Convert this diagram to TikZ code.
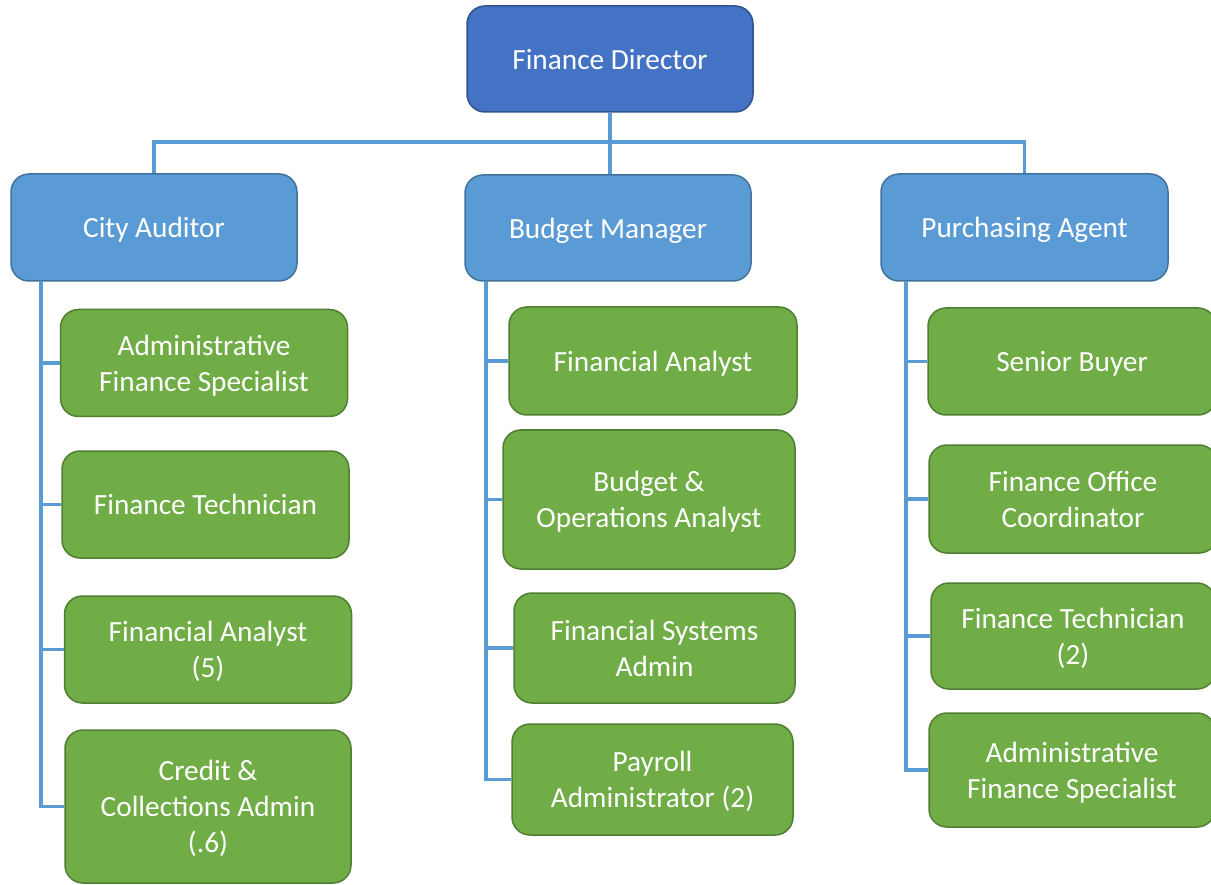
\documentclass[tikz,border=0pt]{standalone}
\usepackage{fontspec}
\setmainfont{Carlito}
\usetikzlibrary{positioning}
\definecolor{dirfill}{HTML}{4472C4}
\definecolor{dirline}{HTML}{2F528F}
\definecolor{mgrfill}{HTML}{5B9BD5}
\definecolor{mgrline}{HTML}{41719C}
\definecolor{stafffill}{HTML}{70AD47}
\definecolor{staffline}{HTML}{507E32}
\definecolor{linkblue}{HTML}{5B9BD5}
\tikzset{
  box/.style={rounded corners=18pt, line width=1.5pt, text=white, align=center,
    inner sep=0pt, text depth=-7pt, font=\fontsize{29.3}{36}\selectfont},
  director/.style={box, fill=dirfill, draw=dirline},
  manager/.style={box, fill=mgrfill, draw=mgrline},
  staff/.style={box, fill=stafffill, draw=staffline},
  link/.style={draw=linkblue, line width=3.5pt}
}
\begin{document}
\begin{tikzpicture}[x=1pt, y=-1pt]
    \useasboundingbox (0,0) rectangle (1211,885);
    \clip (0,0) rectangle (1211,885);

    % top levels
    \node[director, minimum width=286pt, minimum height=106pt] (fd) at (610, 59) {Finance Director};
    \node[manager, minimum width=286pt, minimum height=107pt] (ca) at (154, 227.5) {City Auditor};
    \node[manager, minimum width=286pt, minimum height=106pt] (bm) at (608, 228) {Budget Manager};
    \node[manager, minimum width=287pt, minimum height=107pt] (pa) at (1024.5, 227.5) {Purchasing Agent};

    % city auditor staff
    \node[staff, minimum width=287pt, minimum height=107pt] (ca1) at (204, 363) {Administrative\\Finance Specialist};
    \node[staff, minimum width=287pt, minimum height=107pt] (ca2) at (205.5, 504.5) {Finance Technician};
    \node[staff, minimum width=287pt, minimum height=107pt] (ca3) at (208, 649.5) {Financial Analyst\\(5)};
    \node[staff, minimum width=286pt, minimum height=153pt] (ca4) at (208, 806.5) {Credit \&\\Collections Admin\\(.6)};

    % budget manager staff
    \node[staff, minimum width=288pt, minimum height=108pt] (bm1) at (653, 361) {Financial Analyst};
    \node[staff, minimum width=292pt, minimum height=139pt] (bm2) at (649, 499.5) {Budget \&\\Operations Analyst};
    \node[staff, minimum width=281pt, minimum height=110pt] (bm3) at (654.5, 648) {Financial Systems\\Admin};
    \node[staff, minimum width=281pt, minimum height=111pt] (bm4) at (652.5, 779.5) {Payroll\\Administrator (2)};

    % purchasing agent staff
    \node[staff, minimum width=288pt, minimum height=107pt] (pa1) at (1072, 361.5) {Senior Buyer};
    \node[staff, minimum width=288pt, minimum height=108pt] (pa2) at (1073, 499) {Finance Office\\Coordinator};
    \node[staff, minimum width=284pt, minimum height=106pt] (pa3) at (1073, 636) {Finance Technician\\(2)};
    \node[staff, minimum width=286pt, minimum height=114pt] (pa4) at (1072, 770) {Administrative\\Finance Specialist};

    % connectors
    \coordinate (bus) at (610, 142);
    \coordinate (caspine) at (41, 281);
    \coordinate (bmspine) at (486, 281);
    \coordinate (paspine) at (906, 281);

    \draw[link] (ca.north) |- (bus) -| (pa.north);
    \draw[link] (fd.south) -- (fd.south |- bm.north);
    \foreach \s in {ca1,ca2,ca3,ca4} \draw[link] (caspine) |- (\s.west);
    \foreach \s in {bm1,bm2,bm3,bm4} \draw[link] (bmspine) |- (\s.west);
    \foreach \s in {pa1,pa2,pa3,pa4} \draw[link] (paspine) |- (\s.west);
\end{tikzpicture}
\end{document}
